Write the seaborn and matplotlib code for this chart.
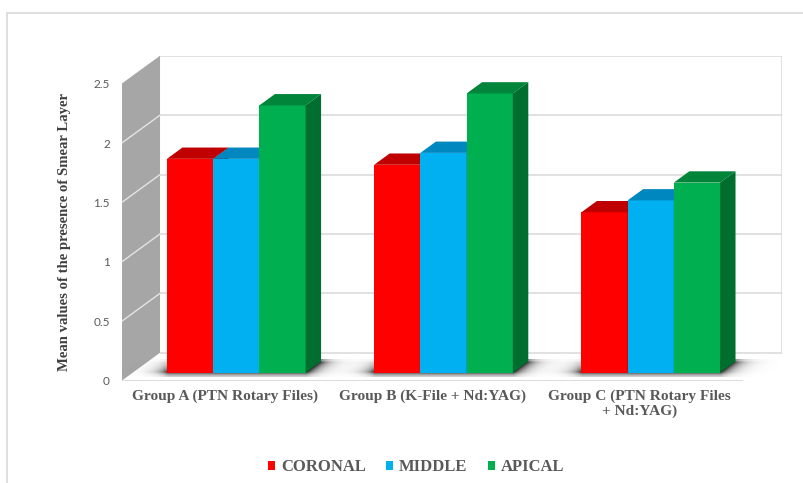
import numpy as np
import pandas as pd
import matplotlib
matplotlib.use("Agg")
import matplotlib.pyplot as plt
from matplotlib.patches import Polygon, Rectangle
from matplotlib.lines import Line2D
import seaborn as sns

# ---- data -------------------------------------------------------------
groups = ["Group A (PTN Rotary Files)",
          "Group B (K-File + Nd:YAG)",
          "Group C (PTN Rotary Files\n+ Nd:YAG)"]
regions = ["CORONAL", "MIDDLE", "APICAL"]
coronal = [1.8, 1.75, 1.35]
middle = [1.8, 1.85, 1.45]
apical = [2.25, 2.35, 1.6]
y_ticks = [0, 0.5, 1, 1.5, 2, 2.5]
y_tick_labels = ["0", "0.5", "1", "1.5", "2", "2.5"]
y_title = "Mean values of the presence of Smear Layer"

# ---- style ------------------------------------------------------------
front_colors = ["#FF0000", "#00B0F0", "#00B050"]
top_colors = ["#C00000", "#0087BF", "#00853B"]
side_colors = ["#A00000", "#00729F", "#006E2E"]
grid_color = "#D9D9D9"
wall_color = "#A6A6A6"
text_gray = "#595959"

values = [v for trio in zip(coronal, middle, apical) for v in trio]
df = pd.DataFrame({
    "group": [g for g in groups for _ in regions],
    "region": regions * len(groups),
    "value": values,
})

sns.set_style("white")
W, H = 804, 483
fig = plt.figure(figsize=(W / 100, H / 100), dpi=100)
fig.patch.set_facecolor("white")

# oblique depth projection (front plane -> back wall), in data units
DX = 38.3 / 207.0
DY = 28.0 / 119.0
F0, F1 = 0.286, 0.69          # bar front / back depth fractions
D = F1 - F0
XMIN, XMAX = -0.5, 2.5 + DX
YMAX = 2.5 + DY

ax = fig.add_axes([121.7 / W, (H - 380.7) / H, 660.0 / W, 325.0 / H])

sns.barplot(data=df, x="group", y="value", hue="region", order=groups,
            hue_order=regions, palette=front_colors, width=0.669,
            saturation=1, errorbar=None, legend=False, ax=ax)

# back wall gridlines and outline
for v in y_ticks:
    ax.plot([XMIN + DX, XMAX], [v + DY, v + DY], color=grid_color, lw=1.1,
            zorder=1, solid_capstyle="butt")
ax.plot([XMAX, XMAX], [DY, YMAX], color=grid_color, lw=1.1, zorder=1)

# left side wall
ax.add_patch(Polygon([(XMIN, 0), (XMIN + DX, DY), (XMIN + DX, YMAX), (XMIN, 2.5)],
                     closed=True, facecolor=wall_color, edgecolor="none", zorder=2))
for v in y_ticks[1:-1]:
    ax.plot([XMIN, XMIN + DX], [v, v + DY], color="#E4E4E4", lw=1.0, zorder=3)

# floor front edge
ax.plot([XMIN, 2.5], [0, 0], color=grid_color, lw=1.3, zorder=3,
        solid_capstyle="butt")


# soft shadows cast on the floor around each cluster of bars
def floor_shadow(x_left, x_right, z):
    pad = 0.2
    xs = np.linspace(x_left - pad, x_right + D * DX + pad, 500)
    y_lo, y_hi = F0 * DY - 0.04, F1 * DY + 0.01
    ys = np.linspace(y_lo, y_hi, 80)
    X, Y = np.meshgrid(xs, ys)
    t = np.clip((Y - F0 * DY) / (D * DY), 0, 1)
    left = x_left + t * D * DX
    right = x_right + t * D * DX
    dist = np.maximum.reduce([left - X, X - right, np.zeros_like(X)]) * 207.0
    vert = np.where(Y < F0 * DY, np.exp(-((F0 * DY - Y) * 119.0) / 3.0), 1.0)
    vert = vert * np.where(Y > F1 * DY - 0.01, 0.5, 1.0)
    alpha = 0.95 * np.exp(-dist / 9.0) * vert
    rgba = np.zeros(X.shape + (4,))
    rgba[..., :3] = 0.1
    rgba[..., 3] = alpha
    ax.imshow(rgba, extent=[xs[0], xs[-1], y_lo, y_hi], origin="lower",
              aspect="auto", interpolation="bilinear", zorder=z)


# turn the flat seaborn bars into boxes standing on the floor
n_groups, n_regions = len(groups), len(regions)
for j in range(n_groups):
    first = ax.containers[0][j]
    last = ax.containers[n_regions - 1][j]
    floor_shadow(first.get_x() + F0 * DX,
                 last.get_x() + last.get_width() + F0 * DX, 4)
    for i in range(n_regions):
        bar = ax.containers[i][j]
        x0 = bar.get_x() + F0 * DX
        y0 = F0 * DY
        w = bar.get_width()
        h = bar.get_height()
        bar.set_x(x0)
        bar.set_y(y0)
        bar.set_edgecolor("none")
        z = 10 + (j * n_regions + i) * 3
        bar.set_zorder(z)
        x1, top = x0 + w, y0 + h
        ax.add_patch(Polygon([(x0, top), (x1, top), (x1 + D * DX, top + D * DY),
                              (x0 + D * DX, top + D * DY)], closed=True,
                             facecolor=top_colors[i], edgecolor="none", zorder=z + 1))
        ax.add_patch(Polygon([(x1, y0), (x1, top), (x1 + D * DX, top + D * DY),
                              (x1 + D * DX, y0 + D * DY)], closed=True,
                             facecolor=side_colors[i], edgecolor="none", zorder=z + 2))

ax.set_xlim(XMIN, XMAX)
ax.set_ylim(0, YMAX)
for s in ax.spines.values():
    s.set_visible(False)
ax.patch.set_visible(False)

ax.set_yticks(y_ticks)
ax.set_yticklabels(y_tick_labels, fontsize=8.5, color=text_gray,
                   family=["Lato", "DejaVu Sans"])
ax.set_xticks(range(n_groups))
ax.set_xticklabels(groups, fontsize=11.1, color=text_gray, fontweight="bold",
                   family=["Liberation Serif", "DejaVu Serif"], linespacing=1.2)
ax.tick_params(axis="y", length=0, pad=8.5)
ax.tick_params(axis="x", length=0, pad=6.0)
ax.set_xlabel("")
ax.set_ylabel(y_title, fontsize=10.6, fontweight="bold", color="#404040",
              family=["Liberation Serif", "DejaVu Serif"])
ax.yaxis.set_label_coords((71 - 121.7) / 660.0, 0.457)

# legend below the plot
handles = [Rectangle((0, 0), 1, 1, facecolor=c, edgecolor="none") for c in front_colors]
fig.legend(handles, regions, loc="center", bbox_to_anchor=(416 / W, 1 - 467 / H),
           ncol=3, frameon=False, handlelength=0.45, handleheight=0.45,
           handletextpad=0.35, columnspacing=1.2,
           prop={"family": ["Liberation Serif", "DejaVu Serif"], "weight": "bold",
                 "size": 12}, labelcolor=text_gray)

# chart frame
fig.add_artist(Line2D([7 / W, 7 / W], [0, 1 - 13 / H], transform=fig.transFigure,
                      color=grid_color, lw=1.2))
fig.add_artist(Line2D([7 / W, 1], [1 - 13 / H, 1 - 13 / H], transform=fig.transFigure,
                      color=grid_color, lw=1.2))

fig.savefig("out.png", dpi=100, facecolor="white")
